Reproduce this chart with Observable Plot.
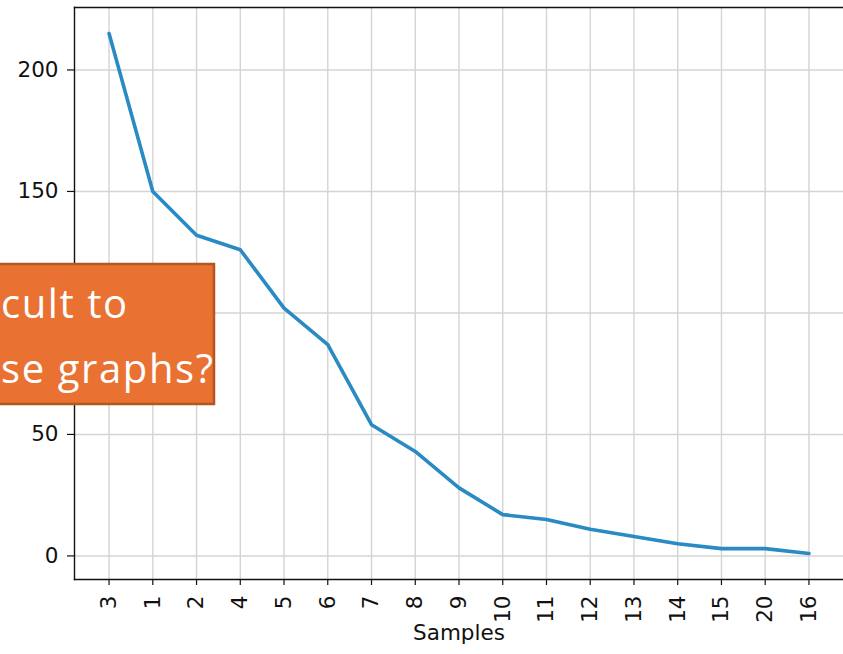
<!DOCTYPE html>
<html>
<head>
<meta charset="utf-8">
<script src="https://cdn.jsdelivr.net/npm/d3@7"></script>
<script src="https://cdn.jsdelivr.net/npm/@observablehq/plot@0.6"></script>
<style>
  html, body { margin: 0; padding: 0; background: white; }
  #wrap { position: relative; width: 843px; height: 654px; overflow: hidden; }
  #overlay { position: absolute; left: 0; top: 0; }
</style>
</head>
<body>
<div id="wrap"></div>
<script>
const samples = ["3","1","2","4","5","6","7","8","9","10","11","12","13","14","15","20","16"];
const counts  = [215, 150, 132, 126, 102, 87, 54, 43, 28, 17, 15, 11, 8, 5, 3, 3, 1];
const yGrid   = [0, 50, 100, 150, 200];
const yTicks  = [0, 50, 150, 200];   // the 100 tick sits behind the callout box
const xLabel  = "Samples";
const calloutLines = ["cult to", "se graphs?"];

const data = samples.map((s, i) => ({sample: s, count: counts[i]}));

const chart = Plot.plot({
  width: 843,
  height: 654,
  marginLeft: 74,
  marginRight: 0,
  marginTop: 7,
  marginBottom: 75,
  style: {fontFamily: "DejaVu Sans", fontSize: "21.5px", color: "#111", background: "white"},
  x: {type: "point", domain: samples, padding: 0.79, round: false},
  y: {domain: [-9.7, 225.7]},
  marks: [
    Plot.gridX(samples, {stroke: "#d4d4d4", strokeOpacity: 1, strokeWidth: 1.4}),
    Plot.gridY(yGrid, {stroke: "#d4d4d4", strokeOpacity: 1, strokeWidth: 1.4}),
    Plot.line(data, {x: "sample", y: "count", stroke: "#2a8ac4", strokeWidth: 3.6}),
    Plot.axisX(samples, {tickRotate: -90, tickSize: 6, tickPadding: 10, label: null, fontSize: 21.5, stroke: "#111", strokeWidth: 1.2}),
    Plot.axisY(yTicks, {tickSize: 7, tickPadding: 9, label: null, fontSize: 21.5, stroke: "#111", strokeWidth: 1.2}),
    Plot.frame({anchor: "left", stroke: "#111", strokeWidth: 1.4}),
    Plot.frame({anchor: "bottom", stroke: "#111", strokeWidth: 1.4}),
    Plot.frame({anchor: "top", stroke: "#111", strokeWidth: 1.4}),
    Plot.text([xLabel], {frameAnchor: "bottom", dy: 60, text: d => d, fontSize: 21.5, fill: "#111"})
  ]
});
document.getElementById("wrap").appendChild(chart);

// Callout box overlay
const ns = "http://www.w3.org/2000/svg";
const ov = document.createElementNS(ns, "svg");
ov.setAttribute("id", "overlay");
ov.setAttribute("width", 843);
ov.setAttribute("height", 654);
const rect = document.createElementNS(ns, "rect");
rect.setAttribute("x", -5);
rect.setAttribute("y", 264);
rect.setAttribute("width", 219);
rect.setAttribute("height", 140);
rect.setAttribute("fill", "#E97132");
rect.setAttribute("stroke", "#B4561F");
rect.setAttribute("stroke-width", 2.5);
ov.appendChild(rect);
const baselines = [318, 383];
const lengths = [126, 212];
calloutLines.forEach((t, i) => {
  const tx = document.createElementNS(ns, "text");
  tx.setAttribute("x", 1);
  tx.setAttribute("y", baselines[i]);
  tx.setAttribute("fill", "white");
  tx.setAttribute("font-family", "Open Sans");
  tx.setAttribute("font-size", 40);
  tx.setAttribute("textLength", lengths[i]);
  tx.setAttribute("lengthAdjust", "spacing");
  tx.textContent = t;
  ov.appendChild(tx);
});
document.getElementById("wrap").appendChild(ov);
</script>
</body>
</html>
